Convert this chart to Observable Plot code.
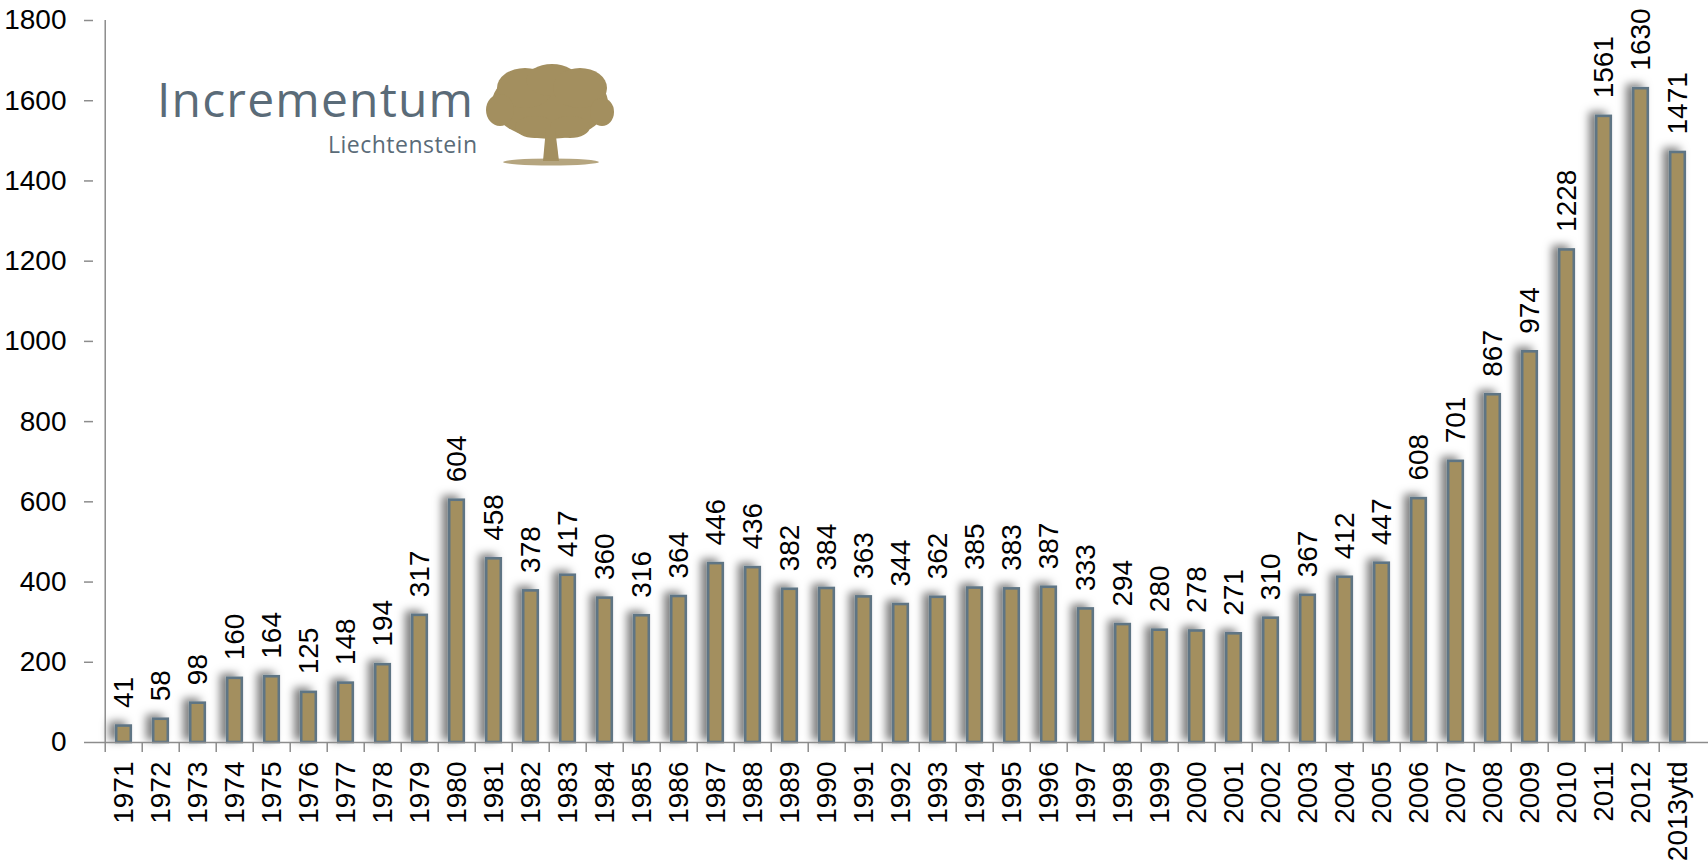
<!DOCTYPE html>
<html>
<head>
<meta charset="utf-8">
<script src="https://cdn.jsdelivr.net/npm/d3@7"></script>
<script src="https://cdn.jsdelivr.net/npm/@observablehq/plot@0.6"></script>
<style>
  html, body { margin: 0; padding: 0; background: #fff; }
  #wrap { position: relative; width: 1708px; height: 865px; overflow: hidden; }
  #logo { position: absolute; left: 0; top: 0; pointer-events: none; }
  g[aria-label="y-axis tick"], g[aria-label="x-axis tick"] { stroke: #8c8c8c; stroke-width: 1.5; }
</style>
</head>
<body>
<div id="wrap">
  <div id="chart"></div>
  <svg id="logo" width="700" height="200" viewBox="0 0 700 200">
    <g fill="#a38f5f">
      <ellipse cx="550" cy="103" rx="58" ry="36"/>
      <ellipse cx="525" cy="88" rx="28" ry="20"/>
      <ellipse cx="552" cy="80" rx="26" ry="16"/>
      <ellipse cx="580" cy="88" rx="27" ry="20"/>
      <ellipse cx="500" cy="110" rx="14" ry="16"/>
      <ellipse cx="602" cy="112" rx="12" ry="14"/>
      <ellipse cx="535" cy="127" rx="20" ry="11"/>
      <ellipse cx="570" cy="127" rx="20" ry="11"/>
      <path d="M546 128 L543 161 L559 161 L555 128 Z"/>
      <ellipse cx="551" cy="162" rx="48" ry="3.5" opacity="0.8"/>
    </g>
    <text x="157" y="117" font-family="'Open Sans', 'DejaVu Sans', sans-serif" font-size="48" fill="#5a6b78" textLength="316" lengthAdjust="spacing">Incrementum</text>
    <text x="328" y="153" font-family="'Open Sans', 'DejaVu Sans', sans-serif" font-size="23" fill="#5a6b78" textLength="149" lengthAdjust="spacing">Liechtenstein</text>
  </svg>
</div>
<script>
const categories = ["1971","1972","1973","1974","1975","1976","1977","1978","1979","1980",
  "1981","1982","1983","1984","1985","1986","1987","1988","1989","1990",
  "1991","1992","1993","1994","1995","1996","1997","1998","1999","2000",
  "2001","2002","2003","2004","2005","2006","2007","2008","2009","2010",
  "2011","2012","2013ytd"];
const values = [41,58,98,160,164,125,148,194,317,604,
  458,378,417,360,316,364,446,436,382,384,
  363,344,362,385,383,387,333,294,280,278,
  271,310,367,412,447,608,701,867,974,1228,
  1561,1630,1471];
const yTicks = [0,200,400,600,800,1000,1200,1400,1600,1800];

const data = categories.map((c, i) => ({year: c, value: values[i]}));

const W = 1708, H = 865, mL = 93, mR = 0;
const step = (W - mL - mR) / categories.length;

const chart = Plot.plot({
  width: W, height: H,
  marginLeft: mL, marginRight: mR, marginTop: 20, marginBottom: 123,
  style: {fontFamily: "'Liberation Sans', Arial, sans-serif", fontSize: "28px", background: "transparent", color: "#000"},
  x: {domain: categories, padding: 0, label: null},
  y: {domain: [0, 1800], label: null},
  marks: [
    Plot.barY(data, {x: "year", y: "value", fill: "#a38f5f", stroke: "#5f7584", strokeWidth: 2.6, insetLeft: 11.2, insetRight: 11.2}),
    Plot.ruleY([0], {stroke: "#8c8c8c", strokeWidth: 1.5}),
    Plot.ruleX([categories[0]], {y1: 0, y2: 1800, dx: -step / 2, stroke: "#8c8c8c", strokeWidth: 1.5}),
    Plot.axisY({ticks: yTicks, tickFormat: d => String(d), tickSize: 9, tickPadding: 18, fontSize: 28, label: null}),
    Plot.axisX({tickSize: 10, tickFormat: () => "", dx: -step / 2, label: null}),
    Plot.axisX({tickSize: 0, tickPadding: 19, tickRotate: -90, fontSize: 28, label: null}),
    Plot.text(data, {x: "year", y: "value", text: d => String(d.value), rotate: -90, textAnchor: "start", dy: -18, fontSize: 28, fill: "#000"})
  ]
});

// drop shadow for bars
const ns = "http://www.w3.org/2000/svg";
const defs = document.createElementNS(ns, "defs");
defs.innerHTML = '<filter id="barShadow" x="-50%" y="-10%" width="200%" height="120%"><feDropShadow dx="-6" dy="-3" stdDeviation="4" flood-color="#000" flood-opacity="0.5"/></filter>';
chart.insertBefore(defs, chart.firstChild);
const barG = chart.querySelector('g[aria-label="bar"]');
if (barG) barG.setAttribute("filter", "url(#barShadow)");

document.getElementById("chart").appendChild(chart);
</script>
</body>
</html>
